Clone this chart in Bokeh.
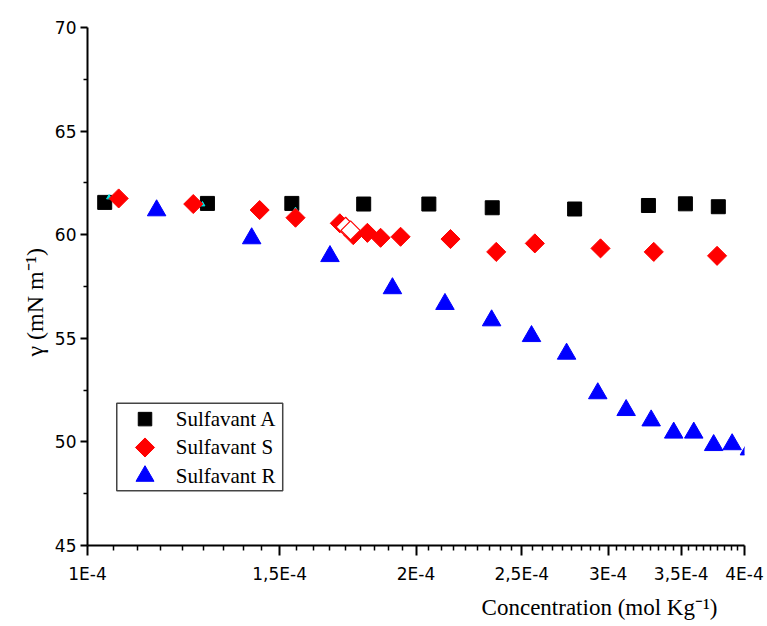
import numpy as np
from bokeh.plotting import figure
from bokeh.models import FixedTicker, Range1d, Title
from bokeh.embed import file_html
from bokeh.resources import INLINE
from bokeh.core.properties import value

# ---------------- data ----------------
a_conc = [1.037e-4, 1.288e-4, 1.539e-4, 1.791e-4, 2.055e-4, 2.349e-4, 2.795e-4, 3.266e-4, 3.531e-4, 3.785e-4]
a_gamma = [61.56, 61.51, 61.51, 61.48, 61.48, 61.30, 61.24, 61.41, 61.49, 61.35]

s_conc = [1.068e-4, 1.250e-4, 1.438e-4, 1.551e-4, 1.703e-4, 1.752e-4, 1.805e-4, 1.856e-4, 1.936e-4,
          2.151e-4, 2.369e-4, 2.570e-4, 2.952e-4, 3.303e-4, 3.775e-4]
s_gamma = [61.75, 61.48, 61.19, 60.82, 60.55, 59.98, 60.09, 59.85, 59.90,
           59.79, 59.17, 59.58, 59.34, 59.17, 58.98]
s_hollow_conc = [1.724e-4, 1.742e-4]
s_hollow_gamma = [60.38, 60.21]

r_conc = [1.157e-4, 1.414e-4, 1.668e-4, 1.903e-4, 2.126e-4, 2.346e-4, 2.552e-4, 2.748e-4, 2.935e-4,
          3.116e-4, 3.285e-4, 3.445e-4, 3.594e-4, 3.748e-4, 3.897e-4, 4.042e-4]
r_gamma = [61.17, 59.82, 58.96, 57.41, 56.65, 55.86, 55.10, 54.25, 52.34,
           51.53, 51.03, 50.44, 50.44, 49.84, 49.88, 49.63]

hidden_conc = [1.0466e-4, 1.2745e-4, 1.551e-4]
hidden_gamma = [61.80, 61.46, 61.19]

x_ticks = [1e-4, 1.5e-4, 2e-4, 2.5e-4, 3e-4, 3.5e-4, 4e-4]
x_tick_labels = ["1E-4", "1,5E-4", "2E-4", "2,5E-4", "3E-4", "3,5E-4", "4E-4"]
y_ticks = [45, 50, 55, 60, 65, 70]
series_names = ["Sulfavant A", "Sulfavant S", "Sulfavant R"]
x_title = "Concentration (mol Kg\u207b\u00b9)"
y_title = "\u03b3 (mN m\u207b\u00b9)"

# ---------------- figure ----------------
p = figure(width=767, height=626, x_axis_type="log",
           x_range=Range1d(1e-4, 4e-4), y_range=Range1d(45, 70),
           output_backend="svg", toolbar_location=None,
           min_border_left=87, min_border_right=23, min_border_top=27, min_border_bottom=81)
p.outline_line_color = None
p.xgrid.visible = False
p.ygrid.visible = False
p.background_fill_color = "white"
p.border_fill_color = "white"

x_minor = []
for t0, t1 in zip(x_ticks[:-1], x_ticks[1:]):
    for k in range(1, 9):
        x_minor.append(t0 + (t1 - t0) * k / 9)
y_minor = [v + 2.5 for v in y_ticks[:-1]]

p.xaxis.ticker = FixedTicker(ticks=x_ticks, minor_ticks=x_minor)
p.xaxis.major_label_overrides = {t: l for t, l in zip(x_ticks, x_tick_labels)}
p.yaxis.ticker = FixedTicker(ticks=y_ticks, minor_ticks=y_minor)

for ax in (p.xaxis, p.yaxis):
    ax.axis_line_width = 2
    ax.axis_line_color = "black"
    ax.major_tick_line_width = 2
    ax.minor_tick_line_width = 1.5
    ax.major_tick_in = 0
    ax.minor_tick_in = 0
    ax.major_label_text_font = "DejaVu Sans"
    ax.major_label_text_font_size = "17px"
    ax.major_label_text_color = "black"

p.xaxis.major_tick_out = 10
p.xaxis.minor_tick_out = 5
p.xaxis.major_label_standoff = 8
p.yaxis.major_tick_out = 7
p.yaxis.minor_tick_out = 4
p.yaxis.major_label_standoff = 4

# ---------------- axis titles ----------------
p.add_layout(Title(text=x_title, align="right", offset=27, standoff=13,
                   text_font="Liberation Serif", text_font_size="23px",
                   text_font_style="normal", text_color="black"), "below")
p.add_layout(Title(text=y_title, align="left", offset=189, standoff=8,
                   text_font="Liberation Serif", text_font_size="24px",
                   text_font_style="normal", text_color="black"), "left")

# ---------------- data glyphs ----------------
p.scatter(r_conc, r_gamma, marker="triangle", size=18.5, fill_color="#0000FF", line_color="#0000FF")
p.scatter(a_conc, a_gamma, marker="square", size=14, fill_color="black", line_color="black")
p.scatter(hidden_conc, hidden_gamma, marker="triangle", size=5, fill_color="#00E5E5", line_color="#00E5E5")
p.scatter(s_conc, s_gamma, marker="square", angle=np.pi / 4, size=13.5,
          fill_color="#FF0000", line_color="#FF0000")
p.scatter(s_hollow_conc, s_hollow_gamma, marker="square", angle=np.pi / 4, size=13.5,
          fill_color="white", line_color="#FF0000", line_width=1.2)

# ---------------- legend (drawn manually) ----------------
p.quad(left=[1.0637e-4], right=[1.5097e-4], top=[51.86], bottom=[47.64],
       fill_color="white", line_color="#444444", line_width=1.5)
leg_x = 1.1290e-4
leg_tx = 1.2046e-4
leg_y = [51.10, 49.73, 48.35]
p.scatter([leg_x], [leg_y[0]], marker="square", size=13.5, color="black")
p.scatter([leg_x], [leg_y[1]], marker="square", angle=np.pi / 4, size=13.5, color="#FF0000")
p.scatter([leg_x], [leg_y[2]], marker="triangle", size=18, color="#0000FF")
p.text([leg_tx] * 3, leg_y, text=series_names, text_font=value("Liberation Serif"),
       text_font_size="21px", text_baseline="middle", text_align="left", text_color="black")

open("out.html", "w").write(file_html(p, INLINE))
